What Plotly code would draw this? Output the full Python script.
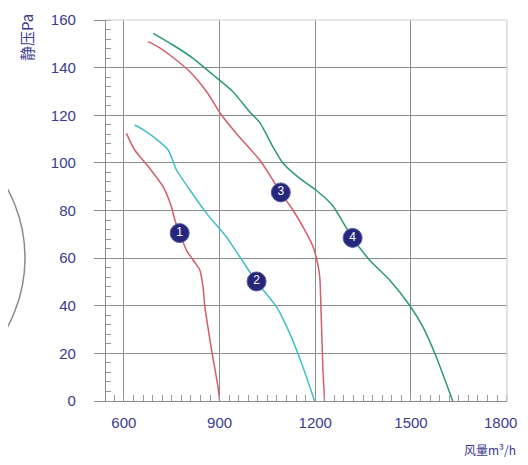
import plotly.graph_objects as go

# ---- data ----
curve1_x = [608, 634, 681, 723, 749, 760, 775, 796, 817, 838, 848, 854, 875, 895, 900]
curve1_y = [112.4, 105.4, 97.7, 90, 81.6, 76, 70.5, 63.4, 59.2, 55, 48, 39.6, 21.4, 6, 0]

curve2_x = [634, 660, 692, 739, 765, 807, 859, 921, 963, 1016, 1078, 1120, 1161, 1198]
curve2_y = [115.9, 114, 111, 105.4, 97, 88.6, 78.8, 69, 60.6, 50, 39.6, 28.4, 14.4, 0]

curve3_x = [676, 710, 744, 807, 859, 906, 958, 1026, 1067, 1092, 1130, 1167, 1193, 1207, 1214, 1219, 1224, 1229]
curve3_y = [150.9, 148.5, 145.3, 138.3, 130, 120.1, 111.5, 101.2, 92.8, 87.5, 80.2, 71.8, 64.8, 58, 52.2, 34, 13, 0]

curve4_x = [692, 754, 817, 880, 942, 994, 1026, 1067, 1099, 1151, 1203, 1255, 1287, 1317, 1370, 1433, 1495, 1537, 1579, 1631]
curve4_y = [154.4, 149.5, 143.9, 136.9, 129.9, 121.5, 117, 106.8, 99.8, 93.5, 88.5, 82, 75, 68.5, 59.2, 50.8, 40.3, 31.2, 18.6, 0]

label_text = ["1", "2", "3", "4"]
label_x = [775, 1016, 1092, 1317]
label_y = [70.5, 50.2, 87.6, 68.5]

x_ticks = [600, 900, 1200, 1500, 1800]
y_ticks = [0, 20, 40, 60, 80, 100, 120, 140, 160]

RED = "#d65c6c"
CYAN = "#3fbfc8"
GREEN = "#2b9a6c"
NAVY = "#26267c"
TXT = "#3b3b8e"
GRID = "#8c8c8c"

fig = go.Figure()
for xs, ys, c in [(curve1_x, curve1_y, RED), (curve2_x, curve2_y, CYAN),
                  (curve3_x, curve3_y, RED), (curve4_x, curve4_y, GREEN)]:
    fig.add_trace(go.Scatter(x=xs, y=ys, mode="lines",
                             line=dict(color=c, width=1.5, shape="spline", smoothing=0.6),
                             showlegend=False, hoverinfo="skip"))

fig.add_trace(go.Scatter(x=label_x, y=label_y, mode="markers+text", text=label_text,
                         textposition="middle center",
                         textfont=dict(color="white", size=12, family="Liberation Sans"),
                         marker=dict(size=19, color=NAVY, line=dict(color="#5a5aa0", width=1)),
                         showlegend=False, hoverinfo="skip"))

# the last label sits at the page edge; it is drawn as a right-anchored annotation
x_ticktext = [str(v) for v in x_ticks[:-1]] + [""]

fig.update_xaxes(range=[544, 1801], tickvals=x_ticks, ticktext=x_ticktext,
                 showgrid=True, gridcolor=GRID, gridwidth=1.2,
                 showline=True, linecolor=GRID, linewidth=1.2,
                 ticks="", zeroline=False, automargin=False, ticklabelstandoff=8,
                 tickfont=dict(color=TXT, size=15, family="Liberation Sans"),
                 minor=dict(ticks="inside", dtick=30, tick0=600, ticklen=6,
                            tickcolor="#9a9a9a", showgrid=False))
fig.update_yaxes(range=[0, 160], tickvals=y_ticks, ticktext=[str(v) for v in y_ticks],
                 showgrid=True, gridcolor=GRID, gridwidth=1.2,
                 showline=True, linecolor=GRID, linewidth=1.2,
                 ticks="outside", ticklen=11, tickcolor=GRID, tickwidth=1.2,
                 ticklabelstandoff=15, zeroline=False, automargin=False,
                 tickfont=dict(color=TXT, size=15, family="Liberation Sans"),
                 minor=dict(ticks="inside", dtick=4, tick0=0, ticklen=5,
                            tickcolor="#9a9a9a", showgrid=False))

shapes = [
    # light frame top/right
    dict(type="line", xref="paper", yref="paper", x0=0, x1=1, y0=1, y1=1,
         line=dict(color="#cfcfcf", width=1.2)),
    dict(type="line", xref="paper", yref="paper", x0=1, x1=1, y0=0, y1=1,
         line=dict(color="#cfcfcf", width=1.2)),
    # partial fan drawing at left
    dict(type="circle", xref="paper", yref="paper", x0=-0.925, x1=-0.202, y0=-0.005, y1=0.756,
         line=dict(color="#8a8a8a", width=1.5)),
]

annotations = [
    dict(text=str(x_ticks[-1]), x=x_ticks[-1], xref="x", y=0, yref="y",
         xanchor="right", yanchor="top", xshift=12, yshift=-11, showarrow=False,
         font=dict(color=TXT, size=15, family="Liberation Sans")),
    dict(text="静压Pa", xref="paper", yref="paper", x=-0.197, y=0.953, textangle=-90,
         showarrow=False, font=dict(color=TXT, size=15, family="Noto Sans CJK SC"),
         xanchor="center", yanchor="middle"),
    dict(text="风量m³/h", xref="paper", yref="paper", x=1.028, y=-0.126,
         showarrow=False, font=dict(color=TXT, size=12, family="Noto Sans CJK SC"),
         xanchor="right", yanchor="middle"),
]

# page body has an 8px margin: the figure is offset by 8px, so the left/top
# margins are reduced by 8px to put the plot area where the reference has it
fig.update_layout(width=512, height=449,
                  margin=dict(l=98, r=13, t=12, b=56),
                  plot_bgcolor="white", paper_bgcolor="white",
                  shapes=shapes, annotations=annotations)

fig.write_html("out.html")
